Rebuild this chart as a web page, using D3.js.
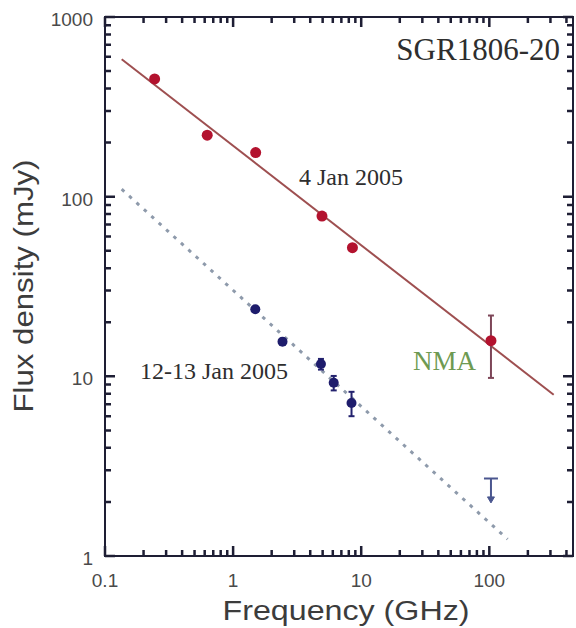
<!DOCTYPE html>
<html><head><meta charset="utf-8">
<script src="https://cdn.jsdelivr.net/npm/d3@7"></script>
<style>html,body{margin:0;padding:0;background:#fff;}svg{display:block;}</style>
</head><body>
<script>
// ---- data ----
const xMajorTicks = [0.1, 1, 10, 100];
const xMinorTicks = [0.2,0.3,0.4,0.5,0.6,0.7,0.8,0.9,2,3,4,5,6,7,8,9,20,30,40,50,60,70,80,90,200,300,400];
const yMajorTicks = [1, 10, 100, 1000];
const yMinorTicks = [2,3,4,5,6,7,8,9,20,30,40,50,60,70,80,90,200,300,400,500,600,700,800,900];
const xTickLabels = ["0.1", "1", "10", "100"];
const yTickLabels = ["1", "10", "100", "1000"];

// 4 Jan 2005 (red)
const redFreq = [0.244, 0.628, 1.50, 4.94, 8.54, 103];
const redFlux = [452, 220, 176, 78, 52, 15.8];
const redErr  = [0, 0, 0, 0, 0, 6];
// 12-13 Jan 2005 (blue)
const blueFreq = [1.49, 2.43, 4.85, 6.1, 8.4];
const blueFlux = [23.6, 15.6, 11.7, 9.2, 7.1];
const blueErr  = [0.5, 0.5, 0.8, 0.85, 1.1];
// upper limit (blue)
const limitFreq = [103];
const limitFlux = [2.7];
const limitArrowTo = [2.0];
// power-law fits (end points)
const redFitFreq = [0.135, 318];
const redFitFlux = [582, 7.9];
const blueFitFreq = [0.135, 139];
const blueFitFlux = [110, 1.24];

const W = 576, H = 628;
const svg = d3.select("body").append("svg").attr("width", W).attr("height", H)
  .attr("viewBox", `0 0 ${W} ${H}`);

const x = d3.scaleLog().domain([0.1, 450]).range([105, 573]);
const y = d3.scaleLog().domain([1, 1000]).range([556, 17]);
const X0 = x(0.1), X1 = x(450), Y0 = y(1), Y1 = y(1000);

const axisColor = "#1e1e34";

// fit lines
const line = d3.line().x(d => x(d[0])).y(d => y(d[1]));
svg.append("path")
  .attr("d", line(d3.zip(blueFitFreq, blueFitFlux)))
  .attr("fill", "none").attr("stroke", "#8e9aab")
  .attr("stroke-width", 3).attr("stroke-dasharray", "3.5,6.5");
svg.append("path")
  .attr("d", line(d3.zip(redFitFreq, redFitFlux)))
  .attr("fill", "none").attr("stroke", "#9e4f50").attr("stroke-width", 2);

// error bars helper
function errBars(freq, flux, err, color, cap) {
  const g = svg.append("g").attr("stroke", color).attr("stroke-width", 2);
  freq.forEach((f, i) => {
    if (!err[i]) return;
    const cx = x(f), y1 = y(flux[i] + err[i]), y2 = y(flux[i] - err[i]);
    g.append("line").attr("x1", cx).attr("x2", cx).attr("y1", y1).attr("y2", y2);
    g.append("line").attr("x1", cx - cap).attr("x2", cx + cap).attr("y1", y1).attr("y2", y1);
    g.append("line").attr("x1", cx - cap).attr("x2", cx + cap).attr("y1", y2).attr("y2", y2);
  });
}
errBars(redFreq, redFlux, redErr, "#7d4658", 3);
errBars(blueFreq, blueFlux, blueErr, "#23226e", 3);

// points
svg.append("g").selectAll("circle").data(d3.zip(redFreq, redFlux)).join("circle")
  .attr("cx", d => x(d[0])).attr("cy", d => y(d[1])).attr("r", 5.5)
  .attr("fill", "#b3122e");
svg.append("g").selectAll("circle").data(d3.zip(blueFreq, blueFlux)).join("circle")
  .attr("cx", d => x(d[0])).attr("cy", d => y(d[1])).attr("r", 5)
  .attr("fill", "#1e1c6c");

// upper limit
limitFreq.forEach((f, i) => {
  const cx = x(f), yt = y(limitFlux[i]), yb = y(limitArrowTo[i]);
  const g = svg.append("g").attr("stroke", "#4a568f").attr("stroke-width", 2).attr("fill", "#4a568f");
  g.append("line").attr("x1", cx - 7).attr("x2", cx + 7).attr("y1", yt).attr("y2", yt);
  g.append("line").attr("x1", cx).attr("x2", cx).attr("y1", yt).attr("y2", yb - 4);
  g.append("path").attr("d", `M${cx-3.5},${yb-5} L${cx+3.5},${yb-5} L${cx},${yb+1} Z`).attr("stroke-width", 1);
});

// ticks on all four sides, pointing inward (one path)
let td = "";
function xTicks(vals, len) {
  vals.forEach(v => {
    const px = x(v).toFixed(2);
    td += `M${px},${Y0}V${Y0 - len}M${px},${Y1}V${Y1 + len}`;
  });
}
function yTicks(vals, len) {
  vals.forEach(v => {
    const py = y(v).toFixed(2);
    td += `M${X0},${py}H${X0 + len}M${X1},${py}H${X1 - len}`;
  });
}
xTicks(xMajorTicks, 10); xTicks(xMinorTicks, 6);
yTicks(yMajorTicks, 10); yTicks(yMinorTicks, 6);
svg.append("path").attr("class", "ticks").attr("d", td)
  .attr("fill", "none").attr("stroke", axisColor).attr("stroke-width", 2.5);

// frame
svg.append("rect").attr("x", X0).attr("y", Y1)
  .attr("width", X1 - X0).attr("height", Y0 - Y1)
  .attr("fill", "none").attr("stroke", axisColor).attr("stroke-width", 2);

// tick labels
const sans = "Liberation Sans, Arial, sans-serif";
svg.append("g").selectAll("text").data(xMajorTicks).join("text")
  .attr("x", d => x(d)).attr("y", Y0 + 31).attr("text-anchor", "middle")
  .attr("font-family", sans).attr("font-size", 19).attr("fill", "#4a4a4a")
  .text((d, i) => xTickLabels[i]);
svg.append("g").selectAll("text").data(yMajorTicks).join("text")
  .attr("x", X0 - 12).attr("y", d => y(d) + 9).attr("text-anchor", "end")
  .attr("font-family", sans).attr("font-size", 19).attr("fill", "#4a4a4a")
  .text((d, i) => yTickLabels[i]);

// axis titles
svg.append("text").attr("x", 346).attr("y", 620).attr("text-anchor", "middle")
  .attr("font-family", sans).attr("font-size", 27)
  .attr("fill", "#3c3c3c").attr("textLength", 247).attr("lengthAdjust", "spacingAndGlyphs")
  .text("Frequency (GHz)");
svg.append("text").attr("transform", "translate(33,286) rotate(-90)").attr("text-anchor", "middle")
  .attr("font-family", sans).attr("font-size", 28)
  .attr("fill", "#3c3c3c").attr("textLength", 253).attr("lengthAdjust", "spacingAndGlyphs")
  .text("Flux density (mJy)");

// annotations
const serif = "Liberation Serif, Times New Roman, serif";
svg.append("text").attr("x", 560).attr("y", 60).attr("text-anchor", "end")
  .attr("font-family", serif).attr("font-size", 31).attr("fill", "#2e2e2e").text("SGR1806-20");
svg.append("text").attr("x", 299).attr("y", 185)
  .attr("font-family", serif).attr("font-size", 24).attr("fill", "#2e2e2e").text("4 Jan 2005");
svg.append("text").attr("x", 140).attr("y", 379)
  .attr("font-family", serif).attr("font-size", 24).attr("fill", "#2e2e2e").text("12-13 Jan 2005");
svg.append("text").attr("x", 413).attr("y", 370)
  .attr("font-family", serif).attr("font-size", 27).attr("fill", "#6e9a52").text("NMA");
</script>
</body></html>
